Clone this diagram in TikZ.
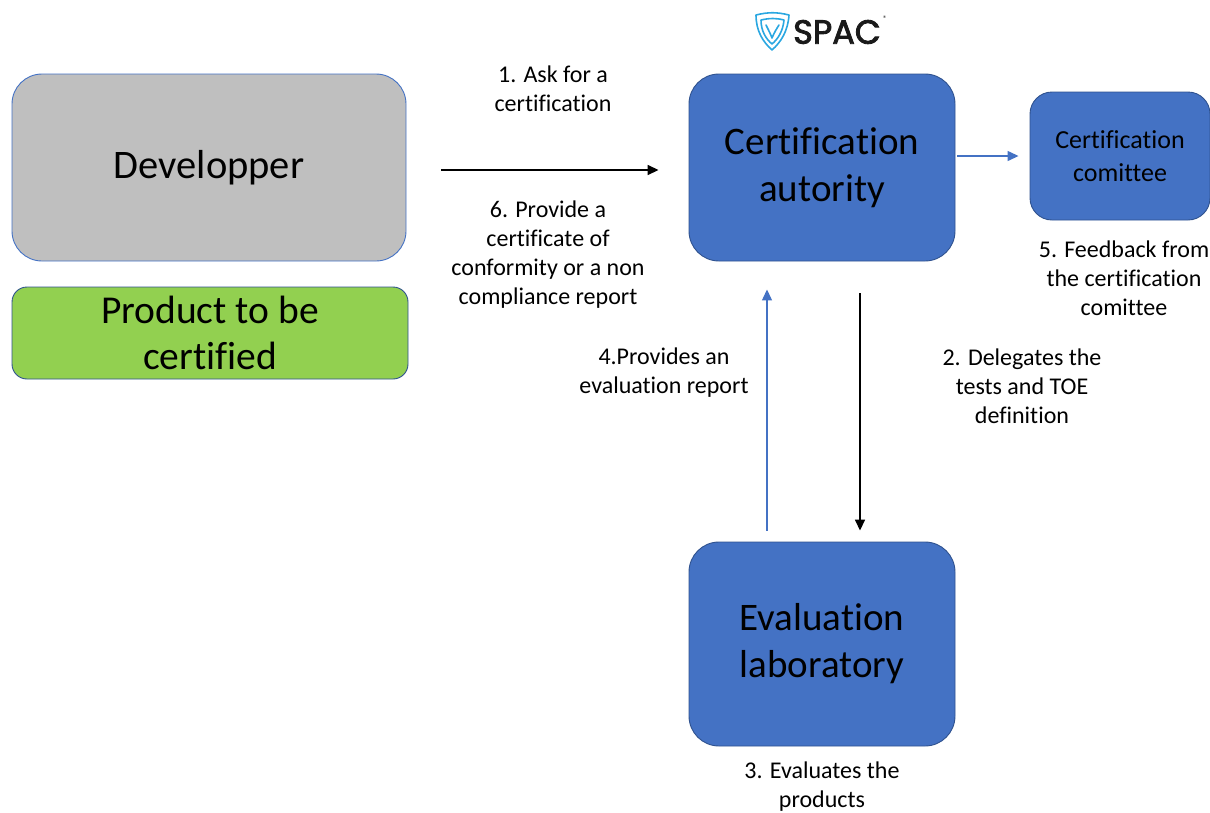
\documentclass[tikz,border=0pt]{standalone}
\usepackage{fontspec}
\setmainfont[Ligatures={NoCommon}]{Carlito}
\newfontfamily\logofont[FakeBold=2.5]{Poppins}
\usetikzlibrary{arrows.meta}
\definecolor{boxblue}{HTML}{4472C4}
\definecolor{boxedge}{HTML}{2F528F}
\definecolor{devgray}{HTML}{BFBFBF}
\definecolor{prodgreen}{HTML}{92D050}
\definecolor{logoblue}{HTML}{2AA7E1}
\definecolor{logotext}{HTML}{1A1A1A}
\tikzset{
  bigbox/.style={draw=boxedge, line width=0.9pt, fill=boxblue, rounded corners=30pt,
    minimum width=266pt, minimum height=187pt, align=center, inner sep=0pt,
    font=\fontsize{39}{47}\selectfont},
  lbl/.style={align=center, inner sep=0pt, font=\fontsize{24}{29}\selectfont},
  blackarrow/.style={draw=black, line width=1.5pt, -{Triangle[length=11pt,width=10pt]}},
  bluearrow/.style={draw=boxblue, line width=1.3pt, -{Triangle[length=11pt,width=10pt]}},
}
\begin{document}
\begin{tikzpicture}[x=1pt, y=-1pt]
\useasboundingbox (0,0) rectangle (1210,812);

% boxes
\node[bigbox, fill=devgray, draw=boxblue, minimum width=394pt, font=\fontsize{40.5}{49}\selectfont] (dev) at (209,167.5) {Developper};
\node[bigbox, fill=prodgreen, rounded corners=15pt, minimum width=396pt, minimum height=92pt,
      font=\fontsize{39.5}{46}\selectfont] (prod) at (210,333) {Product to be\\certified};
\node[bigbox] (ca) at (822,167.5) {Certification\\autority};
\node[bigbox, rounded corners=22pt, minimum width=180pt, minimum height=128pt,
      font=\fontsize{26}{33}\selectfont] (com) at (1120,156) {Certification\\comittee};
\node[bigbox, minimum height=204pt] (eval) at (822,644) {Evaluation\\laboratory};

% labels
\node[lbl] (l1) at (553,89) {1. Ask for a\\certification};
\node[lbl] (l6) at (548,255) {6. Provide a\\certificate of\\conformity or a non\\compliance report};
\node[lbl] (l4) at (664,373) {4.Provides an\\evaluation report};
\node[lbl] (l2) at (1022,386) {2. Delegates the\\tests and TOE\\definition};
\node[lbl] (l5) at (1124,278) {5. Feedback from\\the certification\\comittee};
\node[lbl] (l3) at (822,787) {3. Evaluates the\\products};

% connectors
\draw[blackarrow, shorten <=35pt, shorten >=30pt] ([yshift=-2.5pt]dev.east) -- ([yshift=-2.5pt]ca.west);
\draw[bluearrow, shorten <=2pt, shorten >=11pt] (ca.east |- com.west) -- (com.west);
\draw[blackarrow, shorten <=32pt, shorten >=11pt] ([xshift=38pt]ca.south) -- ([xshift=38pt]eval.north);
\draw[bluearrow, shorten <=11pt, shorten >=28pt] ([xshift=-55pt]eval.north) -- ([xshift=-55pt]ca.south);

% logo
\begin{scope}[draw=logoblue, line width=1.6pt, line join=round, line cap=round]
  \draw (756,15) .. controls (768,12) and (777,12) .. (789,15)
        .. controls (788,31) and (781,42) .. (772,50)
        .. controls (763,42) and (756,31) .. (756,15) -- cycle;
  \draw (761,20) .. controls (770,18) and (776,18) .. (784,20)
        .. controls (783,31) and (778,39) .. (772,44)
        .. controls (766,39) and (761,31) .. (761,20);
  \draw (766,25) .. controls (769,31) and (771,35) .. (772,38)
        .. controls (774,33) and (777,28) .. (779,25);
\end{scope}
\node[anchor=west, inner sep=0pt, text=logotext, font=\logofont\fontsize{33.5}{33.5}\selectfont] (logo) at (793,32) {SPAC};
\node[anchor=west, inner sep=0pt, text=logotext, font=\fontsize{8}{8}\selectfont] (reg) at (883,19) {\textregistered};
\end{tikzpicture}
\end{document}
